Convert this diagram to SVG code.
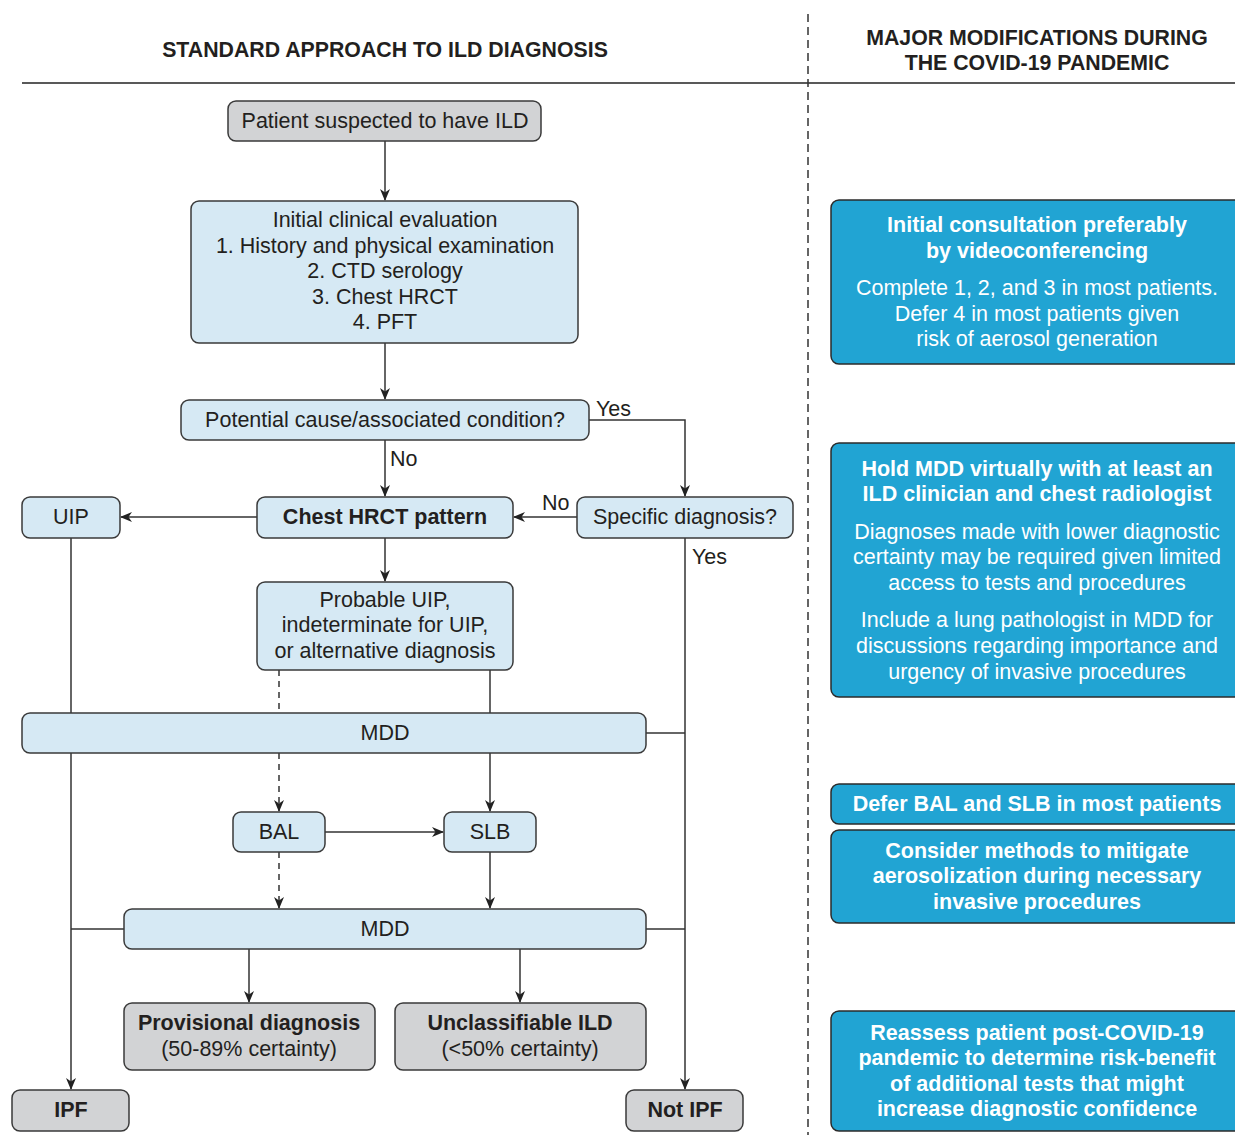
<svg xmlns="http://www.w3.org/2000/svg" width="1235" height="1135" viewBox="0 0 1235 1135">
<defs>
<style>
text{font-family:"Liberation Sans",Arial,sans-serif;font-size:21.5px;fill:#231f20;text-anchor:middle;dominant-baseline:central}
.b{font-weight:bold}
.h{font-weight:bold;font-size:21.3px}
.lb{fill:#d6e9f4;stroke:#3a3a3a;stroke-width:1.5}
.gr{fill:#d2d3d5;stroke:#3a3a3a;stroke-width:1.5}
.bl{fill:#21a4d3;stroke:#2b2b2b;stroke-width:1.5}
.w{fill:#ffffff}
.c{fill:none;stroke:#333;stroke-width:1.5}
.d{fill:none;stroke:#333;stroke-width:1.5;stroke-dasharray:6 5}
.lab{text-anchor:start}
</style>
<marker id="ah" viewBox="0 0 12 10" refX="11" refY="5" markerWidth="12" markerHeight="10" markerUnits="userSpaceOnUse" orient="auto">
<path d="M0,0 L12,5 L0,10 L3.5,5 z" fill="#222"/>
</marker>
</defs>

<g id="headers">
<text class="h" x="385" y="50">STANDARD APPROACH TO ILD DIAGNOSIS</text>
<text class="h" x="1037" y="38">MAJOR MODIFICATIONS DURING</text>
<text class="h" x="1037" y="63">THE COVID-19 PANDEMIC</text>
<line x1="22" y1="83" x2="1235" y2="83" stroke="#222" stroke-width="1.3"/>
<line x1="808" y1="14" x2="808" y2="1135" stroke="#333" stroke-width="1.5" stroke-dasharray="8 5"/>
</g>

<g id="connectors">
<line class="c" x1="385" y1="141" x2="385" y2="200" marker-end="url(#ah)"/>
<line class="c" x1="385" y1="343" x2="385" y2="399" marker-end="url(#ah)"/>
<line class="c" x1="385" y1="440" x2="385" y2="496" marker-end="url(#ah)"/>
<polyline class="c" points="589,420 685,420 685,496" marker-end="url(#ah)"/>
<line class="c" x1="577" y1="517" x2="514" y2="517" marker-end="url(#ah)"/>
<line class="c" x1="257" y1="517" x2="121" y2="517" marker-end="url(#ah)"/>
<line class="c" x1="685" y1="538" x2="685" y2="1089" marker-end="url(#ah)"/>
<line class="c" x1="385" y1="538" x2="385" y2="581" marker-end="url(#ah)"/>
<line class="c" x1="71" y1="538" x2="71" y2="1089" marker-end="url(#ah)"/>
<line class="d" x1="279" y1="670" x2="279" y2="713"/>
<line class="c" x1="490" y1="670" x2="490" y2="713"/>
<line class="c" x1="646" y1="733" x2="685" y2="733"/>
<line class="d" x1="279" y1="753" x2="279" y2="811" marker-end="url(#ah)"/>
<line class="c" x1="490" y1="753" x2="490" y2="811" marker-end="url(#ah)"/>
<line class="c" x1="325" y1="832" x2="443" y2="832" marker-end="url(#ah)"/>
<line class="d" x1="279" y1="852" x2="279" y2="908" marker-end="url(#ah)"/>
<line class="c" x1="490" y1="852" x2="490" y2="908" marker-end="url(#ah)"/>
<line class="c" x1="71" y1="929" x2="124" y2="929"/>
<line class="c" x1="646" y1="929" x2="685" y2="929"/>
<line class="c" x1="249" y1="949" x2="249" y2="1002" marker-end="url(#ah)"/>
<line class="c" x1="520" y1="949" x2="520" y2="1002" marker-end="url(#ah)"/>
<text class="lab" x="596" y="409">Yes</text>
<text class="lab" x="390" y="459">No</text>
<text class="lab" x="542" y="503">No</text>
<text class="lab" x="692" y="557">Yes</text>
</g>

<g id="patient">
<rect class="gr" x="228" y="101" width="313" height="40" rx="8"/>
<text x="385" y="121">Patient suspected to have ILD</text>
</g>

<g id="initial-eval">
<rect class="lb" x="191" y="201" width="387" height="142" rx="8"/>
<text x="385" y="220">Initial clinical evaluation</text>
<text x="385" y="246">1. History and physical examination</text>
<text x="385" y="271">2. CTD serology</text>
<text x="385" y="297">3. Chest HRCT</text>
<text x="385" y="322">4. PFT</text>
</g>

<g id="potential-cause">
<rect class="lb" x="181" y="400" width="408" height="40" rx="8"/>
<text x="385" y="420">Potential cause/associated condition?</text>
</g>

<g id="chest-hrct">
<rect class="lb" x="257" y="497" width="256" height="41" rx="8"/>
<text class="b" x="385" y="517">Chest HRCT pattern</text>
</g>

<g id="specific-dx">
<rect class="lb" x="577" y="497" width="216" height="41" rx="8"/>
<text x="685" y="517">Specific diagnosis?</text>
</g>

<g id="uip">
<rect class="lb" x="22" y="497" width="98" height="41" rx="8"/>
<text x="71" y="517">UIP</text>
</g>

<g id="probable-uip">
<rect class="lb" x="257" y="582" width="256" height="88" rx="8"/>
<text x="385" y="600">Probable UIP,</text>
<text x="385" y="625">indeterminate for UIP,</text>
<text x="385" y="651">or alternative diagnosis</text>
</g>

<g id="mdd1">
<rect class="lb" x="22" y="713" width="624" height="40" rx="8"/>
<text x="385" y="733">MDD</text>
</g>

<g id="bal">
<rect class="lb" x="233" y="812" width="92" height="40" rx="8"/>
<text x="279" y="832">BAL</text>
</g>

<g id="slb">
<rect class="lb" x="444" y="812" width="92" height="40" rx="8"/>
<text x="490" y="832">SLB</text>
</g>

<g id="mdd2">
<rect class="lb" x="124" y="909" width="522" height="40" rx="8"/>
<text x="385" y="929">MDD</text>
</g>

<g id="provisional">
<rect class="gr" x="124" y="1003" width="251" height="67" rx="8"/>
<text class="b" x="249" y="1023">Provisional diagnosis</text>
<text x="249" y="1049">(50-89% certainty)</text>
</g>

<g id="unclassifiable">
<rect class="gr" x="395" y="1003" width="251" height="67" rx="8"/>
<text class="b" x="520" y="1023">Unclassifiable ILD</text>
<text x="520" y="1049">(&lt;50% certainty)</text>
</g>

<g id="ipf">
<rect class="gr" x="12" y="1090" width="117" height="41" rx="8"/>
<text class="b" x="71" y="1110">IPF</text>
</g>

<g id="not-ipf">
<rect class="gr" x="626" y="1090" width="117" height="41" rx="8"/>
<text class="b" x="685" y="1110">Not IPF</text>
</g>

<g id="mod-consult">
<rect class="bl" x="831" y="200" width="415" height="164" rx="8"/>
<text class="b w" x="1037" y="225">Initial consultation preferably</text>
<text class="b w" x="1037" y="251">by videoconferencing</text>
<text class="w" x="1037" y="288">Complete 1, 2, and 3 in most patients.</text>
<text class="w" x="1037" y="314">Defer 4 in most patients given</text>
<text class="w" x="1037" y="339">risk of aerosol generation</text>
</g>

<g id="mod-mdd">
<rect class="bl" x="831" y="443" width="415" height="254" rx="8"/>
<text class="b w" x="1037" y="469">Hold MDD virtually with at least an</text>
<text class="b w" x="1037" y="494">ILD clinician and chest radiologist</text>
<text class="w" x="1037" y="532">Diagnoses made with lower diagnostic</text>
<text class="w" x="1037" y="557">certainty may be required given limited</text>
<text class="w" x="1037" y="583">access to tests and procedures</text>
<text class="w" x="1037" y="620">Include a lung pathologist in MDD for</text>
<text class="w" x="1037" y="646">discussions regarding importance and</text>
<text class="w" x="1037" y="672">urgency of invasive procedures</text>
</g>

<g id="mod-defer">
<rect class="bl" x="831" y="784" width="415" height="40" rx="8"/>
<text class="b w" x="1037" y="804">Defer BAL and SLB in most patients</text>
</g>

<g id="mod-aerosol">
<rect class="bl" x="831" y="830" width="415" height="93" rx="8"/>
<text class="b w" x="1037" y="851">Consider methods to mitigate</text>
<text class="b w" x="1037" y="876">aerosolization during necessary</text>
<text class="b w" x="1037" y="902">invasive procedures</text>
</g>

<g id="mod-reassess">
<rect class="bl" x="831" y="1011" width="415" height="120" rx="8"/>
<text class="b w" x="1037" y="1033">Reassess patient post-COVID-19</text>
<text class="b w" x="1037" y="1058">pandemic to determine risk-benefit</text>
<text class="b w" x="1037" y="1084">of additional tests that might</text>
<text class="b w" x="1037" y="1109">increase diagnostic confidence</text>
</g>
</svg>
